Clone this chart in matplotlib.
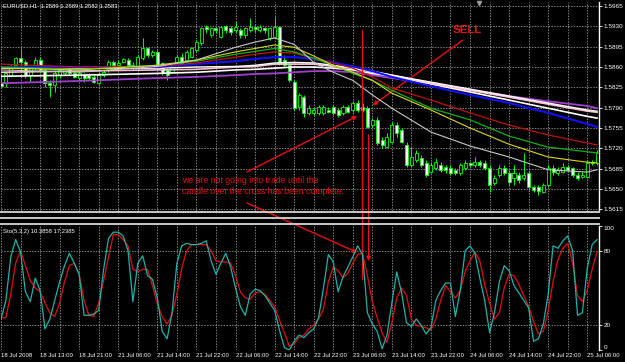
import matplotlib.pyplot as plt
from matplotlib.lines import Line2D

# ---- chart data ----
title_text = "EURUSD,H1  1.2589 1.2589 1.2582 1.2583"
stoch_text = "Sto(5,3,2) 10.3858 17.2385"

time_labels = ["18 Jul 2008", "18 Jul 13:00", "18 Jul 21:00", "21 Jul 06:00",
               "21 Jul 14:00", "21 Jul 22:00", "22 Jul 06:00", "22 Jul 14:00",
               "22 Jul 22:00", "23 Jul 06:00", "23 Jul 14:00", "23 Jul 22:00",
               "24 Jul 06:00", "24 Jul 14:00", "24 Jul 22:00", "25 Jul 06:00"]
price_ticks = [1.5615, 1.5650, 1.5685, 1.5720, 1.5755, 1.5790,
               1.5825, 1.5860, 1.5895, 1.5930, 1.5965]
stoch_ticks = [0, 20, 80, 100]

opens = [1.5834, 1.5832, 1.5846, 1.5863, 1.5875, 1.5868, 1.5846, 1.5860, 1.5872, 1.5855,
         1.5832, 1.5829, 1.5846, 1.5849, 1.5858, 1.5849, 1.5841, 1.5846, 1.5846, 1.5843,
         1.5832, 1.5846, 1.5855, 1.5868, 1.5863, 1.5868, 1.5872, 1.5863, 1.5860, 1.5875,
         1.5892, 1.5880, 1.5886, 1.5867, 1.5855, 1.5851, 1.5860, 1.5877, 1.5872, 1.5877,
         1.5889, 1.5901, 1.5929, 1.5915, 1.5927, 1.5911, 1.5930, 1.5927, 1.5923, 1.5923,
         1.5915, 1.5923, 1.5929, 1.5923, 1.5927, 1.5910, 1.5911, 1.5929, 1.5872, 1.5863,
         1.5834, 1.5791, 1.5808, 1.5781, 1.5781, 1.5781, 1.5781, 1.5786, 1.5791, 1.5786,
         1.5781, 1.5791, 1.5786, 1.5798, 1.5791, 1.5789, 1.5760, 1.5769, 1.5734, 1.5722,
         1.5731, 1.5760, 1.5751, 1.5726, 1.5691, 1.5700, 1.5703, 1.5695, 1.5679, 1.5686,
         1.5691, 1.5688, 1.5686, 1.5683, 1.5677, 1.5686, 1.5695, 1.5691, 1.5696, 1.5695,
         1.5686, 1.5660, 1.5674, 1.5686, 1.5677, 1.5669, 1.5674, 1.5669, 1.5677, 1.5653,
         1.5653, 1.5645, 1.5657, 1.5686, 1.5677, 1.5679, 1.5688, 1.5686, 1.5674, 1.5671,
         1.5671, 1.5696, 1.5695]
highs = [1.5849, 1.5851, 1.5863, 1.5877, 1.5892, 1.5872, 1.5863, 1.5877, 1.5877, 1.5858,
         1.5837, 1.5855, 1.5860, 1.5860, 1.5860, 1.5851, 1.5851, 1.5849, 1.5849, 1.5846,
         1.5851, 1.5855, 1.5872, 1.5872, 1.5872, 1.5875, 1.5875, 1.5868, 1.5880, 1.5910,
         1.5894, 1.5889, 1.5889, 1.5868, 1.5858, 1.5863, 1.5880, 1.5884, 1.5889, 1.5894,
         1.5906, 1.5929, 1.5932, 1.5929, 1.5929, 1.5930, 1.5932, 1.5930, 1.5937, 1.5927,
         1.5929, 1.5944, 1.5932, 1.5932, 1.5929, 1.5929, 1.5946, 1.5930, 1.5880, 1.5868,
         1.5837, 1.5815, 1.5812, 1.5794, 1.5791, 1.5794, 1.5794, 1.5791, 1.5794, 1.5789,
         1.5794, 1.5794, 1.5801, 1.5803, 1.5798, 1.5793, 1.5772, 1.5774, 1.5739, 1.5746,
         1.5765, 1.5765, 1.5755, 1.5731, 1.5722, 1.5717, 1.5708, 1.5700, 1.5696, 1.5703,
         1.5696, 1.5691, 1.5691, 1.5686, 1.5695, 1.5700, 1.5696, 1.5705, 1.5700, 1.5700,
         1.5691, 1.5674, 1.5691, 1.5691, 1.5683, 1.5691, 1.5679, 1.5712, 1.5683, 1.5657,
         1.5657, 1.5660, 1.5691, 1.5691, 1.5688, 1.5695, 1.5691, 1.5688, 1.5679, 1.5679,
         1.5700, 1.5700, 1.5717]
lows = [1.5825, 1.5825, 1.5843, 1.5858, 1.5855, 1.5841, 1.5834, 1.5855, 1.5849, 1.5825,
        1.5808, 1.5817, 1.5841, 1.5846, 1.5846, 1.5841, 1.5837, 1.5834, 1.5837, 1.5832,
        1.5829, 1.5843, 1.5851, 1.5860, 1.5860, 1.5867, 1.5860, 1.5855, 1.5858, 1.5872,
        1.5877, 1.5877, 1.5860, 1.5846, 1.5837, 1.5849, 1.5858, 1.5863, 1.5868, 1.5875,
        1.5886, 1.5898, 1.5918, 1.5911, 1.5918, 1.5910, 1.5918, 1.5915, 1.5918, 1.5910,
        1.5910, 1.5920, 1.5920, 1.5920, 1.5918, 1.5906, 1.5910, 1.5863, 1.5860, 1.5834,
        1.5786, 1.5786, 1.5774, 1.5777, 1.5777, 1.5777, 1.5777, 1.5781, 1.5777, 1.5774,
        1.5777, 1.5781, 1.5782, 1.5782, 1.5782, 1.5755, 1.5757, 1.5726, 1.5720, 1.5720,
        1.5729, 1.5739, 1.5729, 1.5688, 1.5688, 1.5696, 1.5688, 1.5671, 1.5677, 1.5683,
        1.5679, 1.5677, 1.5674, 1.5674, 1.5674, 1.5683, 1.5688, 1.5688, 1.5688, 1.5683,
        1.5645, 1.5657, 1.5671, 1.5674, 1.5657, 1.5657, 1.5660, 1.5665, 1.5648, 1.5645,
        1.5640, 1.5643, 1.5653, 1.5674, 1.5674, 1.5677, 1.5679, 1.5671, 1.5665, 1.5669,
        1.5669, 1.5691, 1.5691]
closes = [1.5827, 1.5849, 1.5858, 1.5875, 1.5868, 1.5846, 1.5860, 1.5872, 1.5855, 1.5832,
          1.5829, 1.5849, 1.5855, 1.5858, 1.5849, 1.5843, 1.5849, 1.5841, 1.5841, 1.5834,
          1.5846, 1.5851, 1.5868, 1.5863, 1.5867, 1.5873, 1.5863, 1.5858, 1.5877, 1.5892,
          1.5880, 1.5886, 1.5863, 1.5849, 1.5846, 1.5860, 1.5877, 1.5867, 1.5886, 1.5892,
          1.5903, 1.5927, 1.5925, 1.5927, 1.5923, 1.5929, 1.5923, 1.5920, 1.5929, 1.5915,
          1.5927, 1.5929, 1.5925, 1.5929, 1.5923, 1.5927, 1.5929, 1.5867, 1.5863, 1.5837,
          1.5789, 1.5812, 1.5781, 1.5789, 1.5786, 1.5791, 1.5791, 1.5782, 1.5781, 1.5777,
          1.5791, 1.5782, 1.5798, 1.5786, 1.5786, 1.5757, 1.5769, 1.5729, 1.5726, 1.5739,
          1.5760, 1.5746, 1.5731, 1.5691, 1.5705, 1.5712, 1.5691, 1.5674, 1.5691, 1.5696,
          1.5683, 1.5683, 1.5677, 1.5677, 1.5691, 1.5695, 1.5691, 1.5696, 1.5691, 1.5686,
          1.5657, 1.5669, 1.5686, 1.5677, 1.5662, 1.5677, 1.5665, 1.5674, 1.5653, 1.5648,
          1.5646, 1.5657, 1.5686, 1.5679, 1.5683, 1.5688, 1.5683, 1.5674, 1.5669, 1.5674,
          1.5695, 1.5695, 1.5712]

# moving averages, read at these bars
ma_bars = [0, 16, 32, 40, 48, 52, 56, 60, 64, 68, 72, 76, 80, 88, 96, 104, 112, 120, 122]
ma_silver = [1.5855, 1.5851, 1.5861, 1.5872, 1.5894, 1.5903, 1.5910, 1.5899, 1.5868, 1.5851,
             1.5837, 1.5812, 1.5789, 1.5748, 1.5724, 1.5705, 1.5683, 1.5679, 1.5683]
ma_yellow = [1.5858, 1.5855, 1.5863, 1.5872, 1.5886, 1.5892, 1.5898, 1.5894, 1.5879, 1.5863,
             1.5851, 1.5837, 1.5815, 1.5786, 1.5755, 1.5727, 1.5705, 1.5696, 1.5695]
ma_green = [1.5860, 1.5856, 1.5863, 1.5870, 1.5882, 1.5887, 1.5892, 1.5886, 1.5875, 1.5863,
            1.5849, 1.5837, 1.5820, 1.5789, 1.5769, 1.5741, 1.5722, 1.5714, 1.5712]
ma_red = [1.5865, 1.5860, 1.5861, 1.5867, 1.5877, 1.5882, 1.5886, 1.5884, 1.5875, 1.5867,
          1.5858, 1.5843, 1.5824, 1.5803, 1.5781, 1.5760, 1.5743, 1.5729, 1.5726]
ma_blue = [1.5860, 1.5860, 1.5860, 1.5865, 1.5870, 1.5874, 1.5877, 1.5877, 1.5874, 1.5868,
           1.5861, 1.5853, 1.5843, 1.5827, 1.5812, 1.5798, 1.5781, 1.5762, 1.5757]
ma_white1 = [1.5858, 1.5858, 1.5858, 1.5860, 1.5861, 1.5863, 1.5867, 1.5868, 1.5867, 1.5863,
             1.5858, 1.5853, 1.5846, 1.5834, 1.5822, 1.5810, 1.5798, 1.5786, 1.5784]
ma_pink = [1.5851, 1.5853, 1.5855, 1.5856, 1.5860, 1.5861, 1.5865, 1.5865, 1.5865, 1.5861,
           1.5858, 1.5851, 1.5846, 1.5832, 1.5820, 1.5808, 1.5796, 1.5784, 1.5782]
ma_white2 = [1.5844, 1.5846, 1.5849, 1.5851, 1.5855, 1.5856, 1.5858, 1.5860, 1.5860, 1.5858,
             1.5855, 1.5849, 1.5844, 1.5831, 1.5817, 1.5803, 1.5789, 1.5775, 1.5772]
ma_purple = [1.5832, 1.5836, 1.5841, 1.5843, 1.5846, 1.5848, 1.5849, 1.5851, 1.5853, 1.5853,
             1.5851, 1.5846, 1.5841, 1.5831, 1.5820, 1.5810, 1.5801, 1.5793, 1.5789]

stoch_main = [25, 40, 75, 89, 79, 47, 39, 58, 48, 17,
              25, 40, 55, 68, 78, 70, 61, 28, 28, 29,
              32, 65, 90, 95, 95, 92, 80, 39, 70, 76,
              60, 57, 42, 15, 9, 30, 70, 84, 86, 85,
              85, 86, 88, 72, 61, 70, 78, 67, 50, 35,
              28, 45, 49, 48, 44, 38, 32, 16, 2, 0,
              7, 12, 10, 14, 17, 26, 50, 77, 71, 47,
              59, 67, 75, 84, 77, 30, 21, 15, 1, 12,
              38, 63, 46, 22, 19, 25, 20, 13, 18, 40,
              48, 54, 54, 27, 48, 80, 84, 78, 58, 40,
              14, 30, 55, 68, 64, 52, 46, 40, 34, 7,
              9, 21, 45, 84, 82, 88, 92, 80, 28, 30,
              66, 85, 89]
stoch_signal = [26, 26, 45, 70, 80, 68, 56, 50, 47, 38,
                30, 27, 38, 55, 68, 70, 61, 40, 28, 27,
                38, 56, 75, 93, 93, 89, 84, 65, 63, 65,
                65, 52, 37, 27, 21, 28, 45, 66, 80, 85,
                85, 85, 85, 80, 72, 71, 71, 70, 60, 47,
                42, 41, 46, 47, 45, 40, 35, 24, 14, 3,
                5, 10, 12, 17, 20, 25, 33, 55, 67, 64,
                58, 62, 70, 77, 78, 60, 39, 26, 14, 6,
                22, 42, 50, 44, 25, 20, 19, 18, 16, 25,
                40, 52, 47, 42, 48, 63, 72, 79, 72, 53,
                38, 25, 30, 50, 61, 60, 53, 44, 35, 23,
                13, 15, 32, 55, 73, 82, 86, 70, 44, 39,
                48, 65, 79]

# ---- style ----
W, H = 625, 362
RED = '#e81010'
LIME = '#00ff00'
GRID = '#b8b8b8'
FONT = 'Liberation Sans'
plt.rcParams['font.family'] = [FONT, 'DejaVu Sans']

fig = plt.figure(figsize=(W / 100, H / 100), dpi=100, facecolor='black')
ax = fig.add_axes([1 / W, 1 - 211 / H, 598 / W, 209 / H], facecolor='black')
ax2 = fig.add_axes([1 / W, 1 - 350 / H, 598 / W, 124 / H], facecolor='black')

n = len(opens)
bars = list(range(n))
xlim = (0.0, 122.4)

for a in (ax, ax2):
    a.set_xlim(*xlim)
    for side in ('left', 'top', 'bottom'):
        a.spines[side].set_visible(False)
    a.spines['right'].set_color('white')
    a.spines['right'].set_linewidth(1)
    a.set_xticks(range(0, 123, 4), minor=True)
    a.grid(which='both', axis='x', color=GRID, lw=0.5, dashes=(2, 2), zorder=0)
    a.tick_params(which='both', axis='x', length=0)
    a.yaxis.tick_right()
    a.tick_params(axis='y', colors='white', labelsize=4.6, length=2, width=0.6, pad=1.5)

# ---- main price panel ----
ax.set_ylim(1.5612, 1.5972)
ax.set_yticks(price_ticks)
ax.set_yticklabels([f"{p:.4f}" for p in price_ticks])
ax.set_xticks([])
ax.grid(axis='y', color=GRID, lw=0.5, dashes=(2, 2), zorder=0)

ax.vlines(bars, lows, highs, color=LIME, lw=0.7, zorder=2)
body_bottom = [min(o, c) for o, c in zip(opens, closes)]
body_height = [max(abs(c - o), 0.00006) for o, c in zip(opens, closes)]
body_fill = ['white' if c < o else 'black' for o, c in zip(opens, closes)]
ax.bar(bars, body_height, bottom=body_bottom, width=0.62, color=body_fill,
       edgecolor=LIME, linewidth=0.6, zorder=3)

ma_lines = [(ma_purple, '#a040d0', 1.3), (ma_white2, 'white', 1.2),
            (ma_pink, '#ffc0d0', 1.2), (ma_white1, 'white', 1.0),
            (ma_blue, '#1010ff', 1.5), (ma_red, '#c01010', 0.9),
            (ma_green, '#10b010', 0.9), (ma_yellow, '#d8d820', 0.8),
            (ma_silver, '#c8c8c8', 0.8)]
for vals, col, lw in ma_lines:
    ax.plot(ma_bars, vals, color=col, lw=lw, zorder=4)

# ---- stochastic panel ----
ax2.set_ylim(0, 100)
ax2.set_yticks(stoch_ticks)
ax2.set_yticklabels([str(t) for t in stoch_ticks])
labs = ax2.get_yticklabels()
labs[0].set_va('bottom')
labs[-1].set_va('top')
for lvl in (20, 80):
    ax2.axhline(lvl, color=GRID, lw=0.5, dashes=(2, 2), zorder=0)
ax2.set_xticks(range(0, 121, 8))
ax2.set_xticklabels(time_labels, ha='left')
ax2.tick_params(axis='x', colors='white', labelsize=4.3, pad=2, length=0)
ax2.plot(bars, stoch_signal, color='#e01010', lw=0.9, zorder=3)
ax2.plot(bars, stoch_main, color='#20b2aa', lw=0.9, zorder=4)

# separators between panels
for yy in (212, 218, 224):
    fig.add_artist(Line2D([0, 599 / W], [1 - yy / H] * 2, transform=fig.transFigure,
                          color='#c8c8c8', lw=1.4))

# ---- texts ----
fig.text(3 / W, 1 - 6 / H, title_text, color='white', fontsize=4.2, va='center')
fig.text(3 / W, 1 - 232 / H, stoch_text, color='white', fontsize=4.2, va='center')
fig.text(467 / W, 1 - 30 / H, 'SELL', color=RED, fontsize=8.2, fontweight='bold',
         ha='center', va='center')
fig.text(182 / W, 1 - 180 / H, 'we are not going into trade until the', color=RED,
         fontsize=6.3, va='center')
fig.text(182 / W, 1 - 191 / H, 'candle over the cross has been complete.', color=RED,
         fontsize=6.3, va='center')

arrow = dict(arrowstyle='-|>', color=RED, lw=1, mutation_scale=6, shrinkA=0, shrinkB=0)
ax.annotate('', xy=(76.1, 1.5794), xytext=(463, H - 40), textcoords='figure pixels',
            arrowprops=arrow, annotation_clip=False)
ax.annotate('', xy=(72.9, 1.57755), xytext=(247, H - 172), textcoords='figure pixels',
            arrowprops=arrow, annotation_clip=False)
ax2.annotate('', xy=(72.9, 78.7), xytext=(247, H - 203), textcoords='figure pixels',
             arrowprops=arrow, annotation_clip=False)
# the two vertical markers across both panels
ax2.annotate('', xy=(74, 57), xytext=(74, 1.5923), textcoords=ax.transData,
             arrowprops=dict(arrowstyle='-', color=RED, lw=1, shrinkA=0, shrinkB=0),
             annotation_clip=False)
ax2.annotate('', xy=(75.25, 71.6), xytext=(75.25, 1.5743), textcoords=ax.transData,
             arrowprops=arrow, annotation_clip=False)

# chart shift marker at the top
ax.plot([97.8], [1.5970], marker='v', color='#9a9a9a', ms=3, clip_on=False, zorder=5)

fig.savefig('out.png', dpi=100, facecolor='black')
